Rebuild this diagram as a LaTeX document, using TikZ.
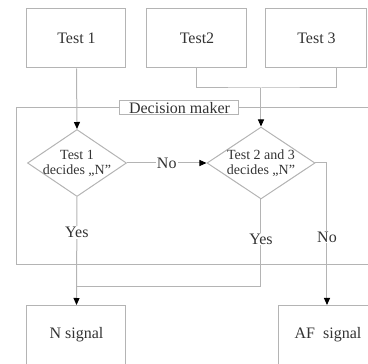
\documentclass[tikz,border=0pt]{standalone}
\usepackage{fontspec}
\setmainfont{Liberation Serif}
\usetikzlibrary{shapes.geometric,arrows.meta,calc}
\definecolor{ln}{HTML}{B4B4B4}
\definecolor{tx}{HTML}{333333}
\begin{document}
\begin{tikzpicture}[x=1pt,y=-1pt,
  box/.style={draw=ln,line width=1pt,rectangle,inner sep=0pt,text=tx,font=\fontsize{16}{18}\selectfont},
  dia/.style={draw=ln,line width=1pt,diamond,inner sep=0pt},
  dtext/.style={text=tx,font=\fontsize{14}{15}\selectfont,align=center,inner sep=0pt},
  conn/.style={draw=ln,line width=1pt},
  arr/.style={conn,-{Triangle[length=7pt,width=6pt,color=black,fill=black]}},
  lab/.style={fill=white,text=tx,font=\fontsize{16}{18}\selectfont,inner sep=1pt}]
\useasboundingbox (0,0) rectangle (368,364);
\clip (0,0) rectangle (368,364);
% frame
\node[draw=ln,line width=1pt,rectangle,minimum width=380pt,minimum height=157pt,inner sep=0pt,anchor=north west] (frame) at (16,107) {};
\node[draw=ln,line width=1pt,fill=white,text=tx,font=\fontsize{16}{17}\selectfont,inner sep=0pt,minimum width=119pt,minimum height=14pt] (dm) at (179.5,108) {Decision maker};
% top boxes
\node[box,minimum width=99pt,minimum height=60pt] (t1) at (76.5,38) {Test 1};
\node[box,minimum width=100pt,minimum height=60pt] (t2) at (197,38) {Test2};
\node[box,minimum width=101pt,minimum height=60pt] (t3) at (316.5,38) {Test 3};
% diamonds
\node[dia,minimum width=99pt,minimum height=67pt] (d1) at (77,163) {};
\node[dtext] (d1t) at (77,163) {Test 1\\decides „N”};
\node[dia,minimum width=108pt,minimum height=72pt] (d2) at (261,163) {};
\node[dtext] (d2t) at (261,163) {Test 2 and 3\\decides „N”};
% bottom boxes
\node[box,minimum width=99pt,minimum height=62pt,anchor=north] (ns) at (76.5,305) {};
\node[text=tx,font=\fontsize{16}{18}\selectfont] (nst) at (76.5,335) {N signal};
\node[box,minimum width=100pt,minimum height=62pt,anchor=north west] (af) at (278,305) {};
\node[text=tx,font=\fontsize{16}{18}\selectfont] (aft) at (328,335) {AF\ \ signal};
% coordinates
\coordinate (t3c) at ($(t3.south)+(20.5,0)$);
\coordinate (jtop) at (261,88);
\coordinate (jbot) at (77,287);
\coordinate (afin) at (327,305);
% connectors
\draw[arr] (t1.south) -- (d1.north);
\draw[conn] (t2.south) |- (jtop) -| (t3c);
\draw[arr] (jtop) -- (d2.north);
\draw[arr] (d1.east) -- node[lab] (no1) {No} (d2.west);
\draw[conn] (d2.east) -| ($(afin)+(0,-80)$);
\draw[arr] (d2.east -| afin) -- node[lab,pos=0.52] (no2) {No} (afin);
\draw[arr] (d1.south) -- node[lab,pos=0.33] (yes1) {Yes} (ns.north);
\draw[conn] (d2.south) -- node[lab,pos=0.45] (yes2) {Yes} (261,287) -- (jbot);
\end{tikzpicture}
\end{document}
